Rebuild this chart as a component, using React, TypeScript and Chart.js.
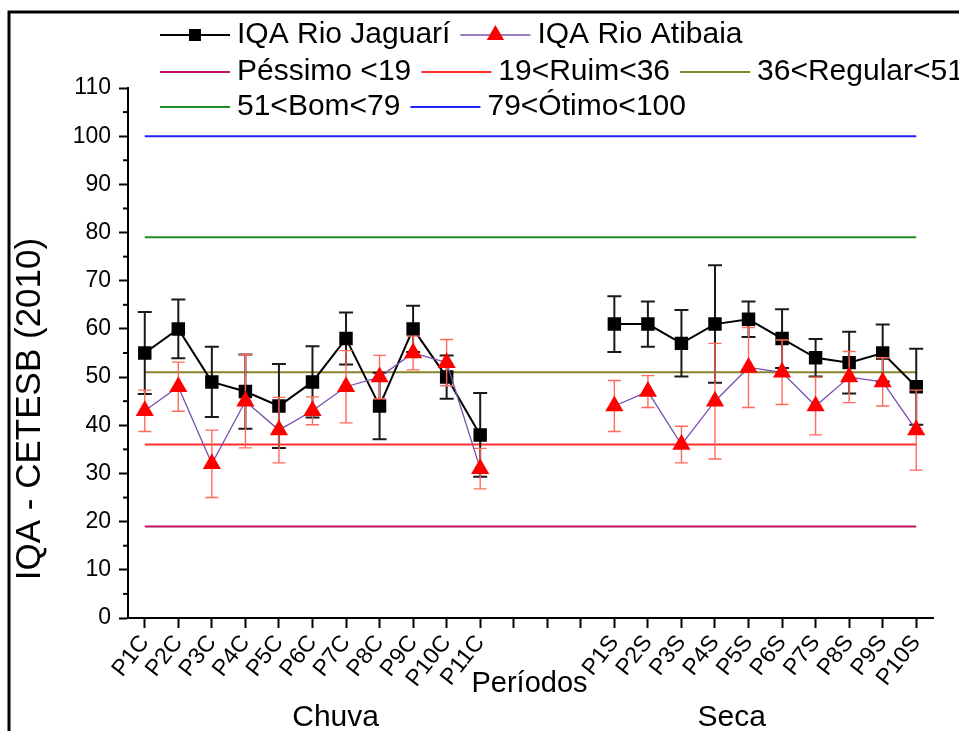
import React, { useEffect, useRef } from 'react';
import { Chart, registerables } from 'chart.js';

Chart.register(...registerables);

// ---------- data ----------
const categories = [
  'P1C', 'P2C', 'P3C', 'P4C', 'P5C', 'P6C', 'P7C', 'P8C', 'P9C', 'P10C', 'P11C',
  '', '', '',
  'P1S', 'P2S', 'P3S', 'P4S', 'P5S', 'P6S', 'P7S', 'P8S', 'P9S', 'P10S',
];

const jaguariLabel = 'IQA Rio Jaguarí';
const jaguariMean = [55, 60, 49, 47, 44, 49, 58, 44, 60, 50, 38, null, null, null, 61, 61, 57, 61, 62, 58, 54, 53, 55, 48];
const jaguariErr = [8.5, 6.1, 7.3, 7.7, 8.7, 7.4, 5.4, 6.9, 4.8, 4.5, 8.7, null, null, null, 5.8, 4.7, 6.9, 12.2, 3.7, 6.1, 3.9, 6.4, 5.9, 7.9];

const atibaiaLabel = 'IQA Rio Atibaia';
const atibaiaMean = [43, 48, 32, 45, 39, 43, 48, 50, 55, 53, 31, null, null, null, 44, 47, 36, 45, 52, 51, 44, 50, 49, 39];
const atibaiaErr = [4.3, 5.1, 7, 9.7, 6.8, 2.9, 7.5, 4.5, 3.5, 4.8, 4.2, null, null, null, 5.3, 3.3, 3.8, 12, 8.3, 6.7, 6, 5.3, 5, 8.3];

const thresholdLabels = ['Péssimo <19', '19<Ruim<36', '36<Regular<51', '51<Bom<79', '79<Ótimo<100'];
const thresholdValues = [19, 36, 51, 79, 100];
const thresholdColors = ['#BE1268', '#FF2E2E', '#85852A', '#228B22', '#2222FF'];

const yMin = 0;
const yMax = 110;
const yStep = 10;

const axisTitleY = 'IQA - CETESB (2010)';
const axisTitleX = 'Períodos';
const groupLabels = ['Chuva', 'Seca'];

// ---------- style ----------
const FONT = "'Liberation Sans', Arial, Helvetica, sans-serif";

const errorBarPlugin = {
  id: 'errorBars',
  beforeDatasetDraw(chart: any, args: any) {
    const ds = chart.data.datasets[args.index];
    if (!ds.errors) return;
    const yScale = chart.scales.y;
    const ctx = chart.ctx;
    const cap = ds.errorCap;
    ctx.save();
    ctx.strokeStyle = ds.errorColor;
    ctx.lineWidth = ds.errorWidth;
    args.meta.data.forEach((pt: any, i: number) => {
      const v = ds.data[i];
      const e = ds.errors[i];
      if (v == null || e == null) return;
      const x = pt.x;
      const yt = yScale.getPixelForValue(v + e);
      const yb = yScale.getPixelForValue(v - e);
      ctx.beginPath();
      ctx.moveTo(x, yt);
      ctx.lineTo(x, yb);
      ctx.moveTo(x - cap, yt);
      ctx.lineTo(x + cap, yt);
      ctx.moveTo(x - cap, yb);
      ctx.lineTo(x + cap, yb);
      ctx.stroke();
    });
    ctx.restore();
  },
};

const decorPlugin = {
  id: 'decor',
  afterDraw(chart: any) {
    const ctx = chart.ctx;
    const area = chart.chartArea;
    const yScale = chart.scales.y;
    const xScale = chart.scales.x;
    ctx.save();

    // minor y ticks
    ctx.strokeStyle = '#000';
    ctx.lineWidth = 2;
    for (let v = yMin + yStep / 2; v < yMax; v += yStep) {
      const py = yScale.getPixelForValue(v);
      ctx.beginPath();
      ctx.moveTo(area.left - 5, py);
      ctx.lineTo(area.left, py);
      ctx.stroke();
    }

    // outer frame
    ctx.lineWidth = 3;
    ctx.beginPath();
    ctx.moveTo(9, 731);
    ctx.lineTo(9, 12);
    ctx.lineTo(959, 12);
    ctx.stroke();

    // y title
    ctx.fillStyle = '#000';
    ctx.save();
    ctx.translate(30, 409);
    ctx.rotate(-Math.PI / 2);
    ctx.font = `35px ${FONT}`;
    ctx.textAlign = 'center';
    ctx.textBaseline = 'middle';
    ctx.fillText(axisTitleY, 0, 0);
    ctx.restore();

    // x title and group labels
    ctx.textAlign = 'center';
    ctx.textBaseline = 'middle';
    ctx.font = `29px ${FONT}`;
    ctx.fillText(axisTitleX, xScale.getPixelForValue(11.47), 684);
    ctx.font = `30px ${FONT}`;
    ctx.fillText(groupLabels[0], xScale.getPixelForValue(5.69), 718);
    ctx.fillText(groupLabels[1], xScale.getPixelForValue(17.5), 718);

    // legend
    const rows = [
      [jaguariLabel, atibaiaLabel],
      [thresholdLabels[0], thresholdLabels[1], thresholdLabels[2]],
      [thresholdLabels[3], thresholdLabels[4]],
    ];
    const rowY = [35, 72, 107];
    const lineLen = 70;
    ctx.font = `30px ${FONT}`;
    ctx.textAlign = 'left';
    rows.forEach((row, r) => {
      let x = area.left + 32;
      const y = rowY[r];
      row.forEach((label) => {
        const ds = chart.data.datasets.find((d: any) => d.label === label);
        ctx.strokeStyle = ds.borderColor;
        ctx.lineWidth = ds.borderWidth;
        ctx.beginPath();
        ctx.moveTo(x, y);
        ctx.lineTo(x + lineLen, y);
        ctx.stroke();
        const cx = x + lineLen / 2;
        if (ds.pointStyle === 'rect') {
          ctx.fillStyle = ds.pointBackgroundColor;
          ctx.fillRect(cx - 6, y - 6, 12, 12);
        } else if (ds.pointStyle === 'triangle') {
          ctx.fillStyle = ds.pointBackgroundColor;
          const rr = 10;
          ctx.beginPath();
          ctx.moveTo(cx, y - rr);
          ctx.lineTo(cx + rr * 0.866, y + rr * 0.5);
          ctx.lineTo(cx - rr * 0.866, y + rr * 0.5);
          ctx.closePath();
          ctx.fill();
        }
        ctx.fillStyle = '#000';
        ctx.fillText(label, x + lineLen + 7, y);
        x += lineLen + 7 + ctx.measureText(label).width + 10;
      });
    });

    ctx.restore();
  },
};

export default function App() {
  const canvasRef = useRef<HTMLCanvasElement | null>(null);

  useEffect(() => {
    if (!canvasRef.current) return;
    const first = categories[0];
    const last = categories[categories.length - 1];
    const thresholdSets = thresholdLabels.map((label, i) => ({
      label,
      data: [
        { x: first, y: thresholdValues[i] },
        { x: last, y: thresholdValues[i] },
      ],
      borderColor: thresholdColors[i],
      backgroundColor: thresholdColors[i],
      borderWidth: 2,
      pointRadius: 0,
      fill: false,
    }));

    const chart = new Chart(canvasRef.current, {
      type: 'line',
      data: {
        labels: categories,
        datasets: [
          {
            label: atibaiaLabel,
            data: atibaiaMean,
            errors: atibaiaErr,
            errorColor: '#FF6A5A',
            errorWidth: 1.4,
            errorCap: 6.5,
            borderColor: '#7A4FB0',
            borderWidth: 1.3,
            pointStyle: 'triangle',
            pointRadius: 10.5,
            pointBackgroundColor: '#FF0000',
            pointBorderColor: '#FF0000',
            pointBorderWidth: 0,
            tension: 0,
            fill: false,
          } as any,
          {
            label: jaguariLabel,
            data: jaguariMean,
            errors: jaguariErr,
            errorColor: '#1A1A1A',
            errorWidth: 2,
            errorCap: 7,
            borderColor: '#000',
            borderWidth: 2,
            pointStyle: 'rect',
            pointRadius: 9.5,
            pointBackgroundColor: '#000',
            pointBorderColor: '#000',
            pointBorderWidth: 0,
            tension: 0,
            fill: false,
          } as any,
          ...thresholdSets,
        ],
      },
      options: {
        responsive: false,
        animation: false,
        events: [],
        layout: { padding: { left: 0, right: 26, top: 88, bottom: 0 } },
        plugins: {
          legend: { display: false },
          tooltip: { enabled: false },
          title: { display: false },
        },
        scales: {
          x: {
            type: 'category',
            offset: true,
            grid: {
              display: true,
              drawOnChartArea: false,
              drawTicks: true,
              tickLength: 10,
              tickWidth: 2,
              tickColor: '#000',
              offset: false,
            },
            border: { display: true, color: '#000', width: 2 },
            ticks: {
              autoSkip: false,
              maxRotation: 52,
              minRotation: 52,
              padding: 2,
              color: '#000',
              font: { family: FONT, size: 23 },
            },
            afterFit: (s: any) => {
              s.height = 113;
            },
          },
          y: {
            min: yMin,
            max: yMax,
            grid: {
              drawOnChartArea: false,
              drawTicks: true,
              tickLength: 9,
              tickWidth: 2,
              tickColor: '#000',
            },
            border: { display: true, color: '#000', width: 2 },
            ticks: {
              stepSize: yStep,
              padding: 8,
              color: '#000',
              font: { family: FONT, size: 23 },
            },
            afterFit: (s: any) => {
              s.width = 128;
            },
          },
        },
      } as any,
      plugins: [errorBarPlugin, decorPlugin],
    });
    return () => chart.destroy();
  }, []);

  return (
    <div style={{ position: 'absolute', left: 0, top: 0, width: 959, height: 731, background: '#fff' }}>
      <canvas ref={canvasRef} width={959} height={731} style={{ display: 'block' }} />
    </div>
  );
}
